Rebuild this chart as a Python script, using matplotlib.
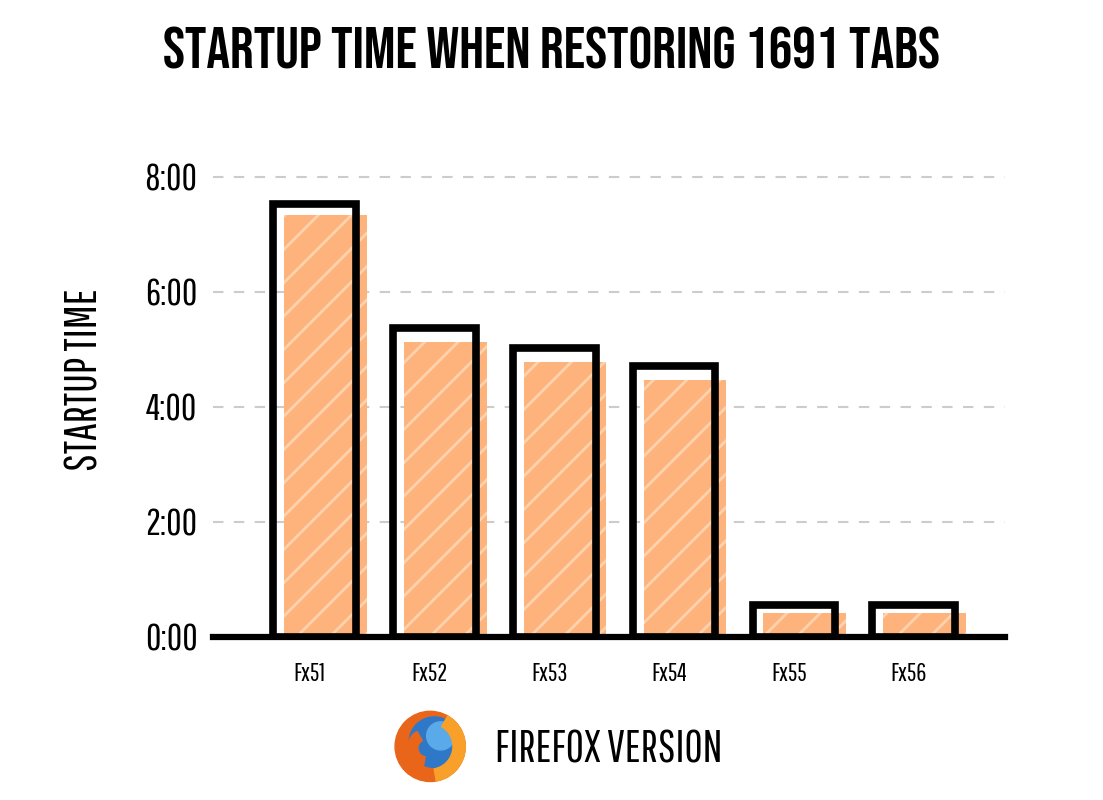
import numpy as np
import matplotlib
matplotlib.use("Agg")
import matplotlib.pyplot as plt
from matplotlib.ticker import FuncFormatter
from matplotlib.patches import Circle, Wedge

# =============================================================================
# data (startup time in minutes)
# =============================================================================
versions = ["Fx51", "Fx52", "Fx53", "Fx54", "Fx55", "Fx56"]
outline_min = [7.53, 5.37, 5.03, 4.71, 0.56, 0.56]
orange_min = [7.34, 5.13, 4.78, 4.47, 0.42, 0.42]
yticks_min = [0, 2, 4, 6, 8]

title = "STARTUP TIME WHEN RESTORING 1691 TABS"
ylabel = "STARTUP TIME"
xlabel = "FIREFOX VERSION"

thin = ["Pathway Gothic One", "DejaVu Sans"]
heavy = ["Bebas Neue", "DejaVu Sans"]
plt.rcParams['font.family'] = thin
plt.rcParams['hatch.linewidth'] = 2.0

fig = plt.figure(figsize=(11.03, 8), dpi=100)
ax = fig.add_axes([0.193, 0.204, 0.718, 0.575])

x = np.arange(len(versions))
w = 0.69
ax.bar(x + 0.09, orange_min, width=w, color="#FDB37B", edgecolor="#FFD2AE",
       linewidth=0, hatch="/", zorder=2)
ax.bar(x, outline_min, width=w, facecolor="none", edgecolor="black",
       linewidth=5.5, zorder=3, joinstyle="miter")

ax.set_xlim(-0.85, 5.76)
ax.set_ylim(0, 8)
ax.set_yticks(yticks_min)
ax.yaxis.set_major_formatter(FuncFormatter(lambda v, p: "%d:%02d" % (int(v), round((v % 1) * 60))))
ax.set_xticks(x - 0.04)
ax.set_xticklabels(versions, fontsize=18)
ax.tick_params(axis="both", length=0)
ax.tick_params(axis="y", labelsize=27, pad=11)
ax.tick_params(axis="x", pad=18)

for v in yticks_min[1:]:
    ax.axhline(v, color="#cccccc", lw=1.5, ls=(0, (5, 5)), zorder=1, clip_on=False)

for s in ["top", "right", "left"]:
    ax.spines[s].set_visible(False)
ax.spines["bottom"].set_linewidth(4.5)
ax.spines["bottom"].set_zorder(4)

fig.text(0.5, 0.94, title, ha="center", va="center", fontsize=42.5,
         fontweight="bold", family=heavy)
fig.text(0.077, 0.525, ylabel, ha="center", va="center", rotation=90,
         fontsize=32, family=thin)
fig.text(0.449, 0.063, xlabel, ha="left", va="center", fontsize=32,
         family=thin)

# rough firefox logo
lax = fig.add_axes([0.355, 0.018, 0.07, 0.098])
lax.set_aspect("equal")
lax.axis("off")
lax.set_xlim(-1.1, 1.1)
lax.set_ylim(-1.1, 1.1)
lax.add_patch(Circle((0, 0), 1.0, color="#E8651A"))
lax.add_patch(Circle((0.12, 0.12), 0.72, color="#2F78C8"))
lax.add_patch(Circle((0.3, 0.3), 0.4, color="#5AA9E8"))
lax.add_patch(Wedge((0, 0), 1.0, -80, 60, width=0.35, color="#F8A02A"))
lax.add_patch(Wedge((-0.1, -0.05), 0.55, 120, 260, width=0.3, color="#E8651A"))

fig.savefig("out.png", dpi=100)
